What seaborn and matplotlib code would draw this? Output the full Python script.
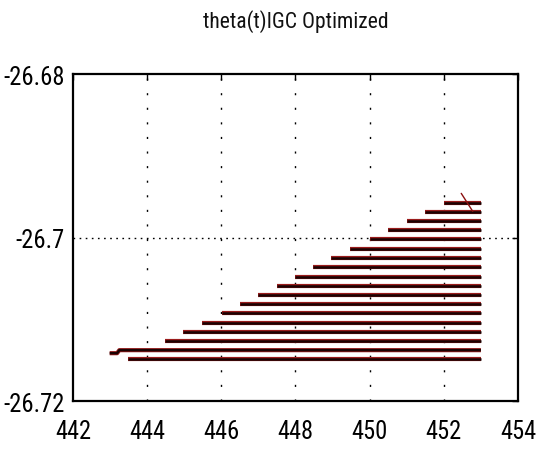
import matplotlib
matplotlib.use("Agg")
import matplotlib.pyplot as plt
from matplotlib import font_manager
import seaborn as sns
import pandas as pd

# ---- data ----
row_y = [-26.69572, -26.69686, -26.69801, -26.69911, -26.70024, -26.70138,
         -26.70253, -26.70363, -26.70477, -26.70591, -26.70706, -26.70816,
         -26.70929, -26.71040, -26.71153, -26.71263, -26.71378, -26.71488]
row_start = [452.00, 451.49, 451.00, 450.50, 450.00, 449.48, 448.97, 448.48,
             447.99, 447.49, 447.00, 446.50, 446.02, 445.47, 444.97, 444.49,
             443.25, 443.49]
row_end = 453.0
tail_x = [442.99, 443.19]
tail_y = [-26.71415, -26.71415]
diag_x = [452.47, 452.78]
diag_y = [-26.6946, -26.6968]

x_ticks = [442, 444, 446, 448, 450, 452, 454]
y_ticks = [-26.72, -26.70, -26.68]
y_tick_labels = ["-26.72", "-26.7", "-26.68"]
title = "theta(t)IGC Optimized"

# ---- choose a narrow font if one is installed ----
names = {f.name for f in font_manager.fontManager.ttflist}
narrow = None
for cand in ["Liberation Sans Narrow", "Arial Narrow", "Roboto Condensed",
             "Open Sans Condensed", "Noto Sans Condensed"]:
    if cand in names:
        narrow = cand
        break
fam = [narrow, "DejaVu Sans"] if narrow else ["DejaVu Sans"]

# ---- build long table ----
recs = []
for i, (y, xs) in enumerate(zip(row_y, row_start)):
    pts = [(xs, y), (row_end, y)]
    if i == 16:
        pts = [(tail_x[0], tail_y[0]), (tail_x[1], tail_y[1]), (xs, y), (row_end, y)]
    for k, (px, py) in enumerate(pts):
        recs.append({"id": i, "order": k, "x": px, "y": py})
df = pd.DataFrame(recs)
ddf = pd.DataFrame({"x": diag_x, "y": diag_y, "id": 0})

sns.set_style("white")
plt.rcParams["font.family"] = fam
plt.rcParams["font.stretch"] = "condensed"
plt.rcParams["axes.unicode_minus"] = False

fig = plt.figure(figsize=(5.39, 4.56), dpi=100)
ax = fig.add_axes([0.1354, 0.1184, 0.961 - 0.1354, 0.8355 - 0.1184])

# grid
for xv in x_ticks[1:-1]:
    ax.axvline(xv, color="black", lw=1.0, ls=(0, (1.5, 9)), zorder=1)
ax.axhline(-26.70, color="black", lw=1.0, ls=(0, (1.2, 3.2)), zorder=1)

sns.lineplot(data=df, x="x", y="y", units="id", estimator=None, sort=False,
             color="#9a1c1c", lw=3.0, ax=ax, legend=False, zorder=2,
             solid_capstyle="butt")
sns.lineplot(data=df, x="x", y="y", units="id", estimator=None, sort=False,
             color="#1a0202", lw=1.8, ax=ax, legend=False, zorder=3,
             solid_capstyle="butt")
sns.lineplot(data=ddf, x="x", y="y", units="id", estimator=None, sort=False,
             color="#8b1010", lw=1.0, ax=ax, legend=False, zorder=4)

ax.set_xlim(442, 454)
ax.set_ylim(-26.72, -26.68)
ax.set_xticks(x_ticks)
ax.set_xticklabels([str(v) for v in x_ticks])
ax.set_yticks(y_ticks)
ax.set_yticklabels(y_tick_labels)
ax.set_xlabel("")
ax.set_ylabel("")

# size tick labels so "-26.68" is about as wide as in the reference
probe = fig.text(0, 0, "-26.68", fontsize=20, family=fam, stretch="condensed")
fig.canvas.draw()
w = probe.get_window_extent().width
probe.remove()
tick_size = min(22, max(12, 20 * 61.0 / w))

ax.tick_params(direction="in", length=4, width=1, top=True, right=True,
               labelsize=tick_size, colors="black")
ax.tick_params(axis="x", pad=13)
ax.tick_params(axis="y", pad=6)
for lab in ax.get_xticklabels() + ax.get_yticklabels():
    lab.set_family(fam)
    lab.set_stretch("condensed")
for s in ax.spines.values():
    s.set_visible(True)
    s.set_color("black")
    s.set_linewidth(1.6)

fig.text(0.548, 0.952, title, ha="center", va="center",
         fontsize=tick_size * 0.88,
         family=fam, stretch="condensed", color="#111111")

fig.savefig("out.png", dpi=100, facecolor="white")
